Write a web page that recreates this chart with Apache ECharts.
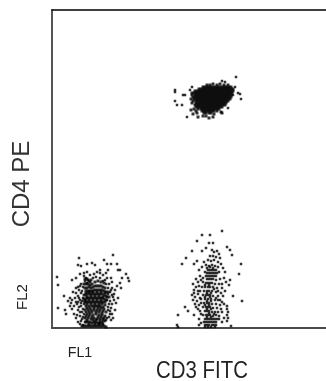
<!DOCTYPE html>
<html><head><meta charset="utf-8">
<style>html,body{margin:0;padding:0;background:#fff}#c{width:326px;height:381px}</style>
<script src="https://cdn.jsdelivr.net/npm/echarts@6/dist/echarts.min.js"></script></head>
<body><div id="c"></div>
<script>
const yTitle="CD4 PE", xTitle="CD3 FITC", yChannel="FL2", xChannel="FL1";
const cd4Blob=[
[207,243],[210,243],[213,244],[217,243],[220,244],[224,243],[228,243],
[203,241],[205,241],[207,241],[209,241],[211,241],[213,241],[215,241],[217,241],[219,241],[221,241],[223,241],[225,241],[227,241],[229,241],[231,241],
[199,239],[201,239],[203,239],[205,239],[207,239],[209,239],[211,239],[213,239],[215,239],[217,239],[219,239],[221,239],[223,239],[225,239],[227,239],[229,239],[231,239],[233,239],
[195,237],[197,237],[199,237],[201,237],[203,237],[205,237],[207,237],[209,237],[211,237],[213,237],[215,237],[217,237],[219,237],[221,237],[223,237],[225,237],[227,237],[229,237],[231,237],[233,237],
[192,235],[194,235],[196,235],[198,235],[200,235],[202,235],[204,235],[206,235],[208,235],[210,235],[212,235],[214,235],[216,235],[218,235],[220,235],[222,235],[224,235],[226,235],[228,235],[230,235],[232,235],
[192,233],[195,233],[197,233],[199,233],[201,233],[203,233],[205,233],[207,233],[209,233],[211,233],[213,233],[215,233],[217,233],[219,233],[221,233],[223,233],[225,233],[227,233],[229,233],[231,233],
[193,231],[195,231],[197,231],[199,231],[201,231],[203,231],[205,231],[207,231],[209,231],[211,231],[213,231],[215,231],[217,231],[219,231],[221,231],[223,231],[225,231],[227,231],[229,231],[231,231],
[191,229],[194,229],[196,229],[198,229],[200,229],[202,229],[204,229],[206,229],[208,229],[210,229],[212,229],[214,229],[216,229],[218,229],[220,229],[222,229],[224,229],[226,229],[228,229],[230,229],
[193,227],[196,227],[198,227],[200,227],[202,227],[204,227],[206,227],[208,227],[210,227],[212,227],[214,227],[216,227],[218,227],[220,227],[222,227],[224,227],[226,227],[228,227],
[192,225],[196,225],[198,225],[200,225],[202,225],[204,225],[206,225],[208,225],[210,225],[212,225],[214,225],[216,225],[218,225],[220,225],[222,225],[224,225],[226,225],
[195,223],[197,223],[199,223],[201,223],[203,223],[205,223],[207,223],[209,223],[211,223],[213,223],[215,223],[217,223],[219,223],[221,223],[223,223],[225,223],
[196,221],[198,221],[200,221],[202,221],[204,221],[206,221],[208,221],[210,221],[212,221],[214,221],[216,221],[218,221],[220,221],[222,221],
[194,219],[198,219],[201,219],[203,219],[205,219],[207,219],[209,219],[211,219],[213,219],[215,219],[217,219],[219,219],
[191,218],[196,217],[202,217],[204,217],[206,217],[208,217],[210,217],[212,217],[214,217],[217,217],[221,216],
[193,214],[197,215],[204,215],[206,215],[209,215],[211,215],[214,214],[222,215],
[198,211],[203,212],[206,212],[213,211],[209,210]
];
const cd4Outliers=[[175,238],[175,236],[183,233],[185,233],[175,227],[177,223],[182,223],[187,211],[236,251],[240,234],[241,229],[238,235],[225,246],[222,247],[228,220],[233,233],[235,241],[190,238],[192,241]];
const negLeft=[
[57,51],[58,43],[79,70],[78,63],[81,62],[87,64],[92,65],[95,63],[113,73],[104,68],[107,64],[111,64],[117,64],[108,58],[106,55],[118,58],[120,58],[126,54],[128,50],[129,47],[122,50],[120,45],[117,42],[121,40],
[58,20],[65,18],[66,14],[64,32],[70,30],[71,25],[70,22],[72,19],[72,48],[76,50],[80,54],[84,55],[100,58],[100,55],[107,50],[111,50],[112,46],[115,38],[118,30],[114,28],[115,18],[113,10],[111,8],[74,14],[76,10],[78,6],[73,36],[75,30],[76,26],[74,22],[78,18],[80,12],
[84,52],[86,50],[88,48],[85,47],[87,45],[90,46],[93,50],[96,51],[100,50],[103,47],[106,44],[108,40],[110,36],[112,33],[81,44],[83,41],[79,38],[81,35],[78,32],[80,28],[77,24],[81,22],[83,19],[80,16],[84,14],[82,9],[85,6],[83,3],[108,18],[110,14],[107,10],[111,20],[109,24],[107,28],[105,7],[103,4],[86,16],[84,24],[112,40],[114,34],[116,25],[76,40],[72,28],[68,27],
[78,41],[76,35],[79,30],[82,27],[78,26],[81,25],[83,30],[82,37],[80,42],[79,21],[82,16],[77,13],[83,11],[81,7],[80,4],[110,27],[112,24],[108,34],[111,38],[113,31],[109,44],[105,48],[108,21],[110,17],[109,11],[106,8],[112,14],[103,53],[94,54],[90,53],[87,56],[97,56]
];
const negLeftCore=[
[85,49],[87,49],[89,47],[91,48],[84,44],[86,44],[88,44],[90,43],[92,44],[95,46],[98,47],[101,46],[104,45],
[85,40],[87,40],[89,41],[91,40],[93,41],[95,42],[97,42],[99,42],[101,42],[103,41],[105,40],
[86,37],[88,37],[90,37],[92,37],[94,38],[96,38],[98,38],[100,38],[102,38],[104,37],[106,36],[108,36],
[84,33],[86,33],[88,34],[90,34],[92,34],[94,34],[96,34],[98,34],[100,34],[102,34],[104,33],[106,32],[109,31],
[84,29],[86,29],[88,30],[90,30],[92,30],[94,30],[96,30],[98,30],[100,30],[102,30],[104,29],[106,28],
[85,26],[87,26],[89,26],[91,26],[93,26],[95,26],[97,26],[99,26],[101,26],[103,26],
[86,22],[89,22],[92,22],[94,22],[96,22],[98,22],[100,22],[103,21],[105,23],
[85,18],[88,18],[91,18],[94,18],[97,18],[100,18],[103,17],[106,16],
[87,14],[90,14],[93,13],[96,14],[99,13],[102,13],[105,12],
[85,10],[88,10],[91,9],[94,10],[97,9],[100,9],[103,9],
[86,6],[88,6],[90,6],[92,5],[94,6],[96,6],[98,5],[100,5],[102,5],
[82,2],[84,2],[86,2],[88,2],[90,2],[92,2],[94,2],[96,2],[98,2],[100,2],[102,2],[104,2],[106,1],
[86,35],[89,36],[93,36],[97,36],[101,36],[105,35],[87,31],[91,32],[95,32],[99,32],[103,31],[107,31],[85,27],[89,28],[93,28],[97,28],[101,28],[105,26],[87,24],[91,24],[95,24],[99,24],[102,24],[87,20],[90,20],[94,20],[98,20],[101,20],[104,19],[89,16],[92,16],[96,16],[99,16],[102,15],[86,12],[89,12],[92,11],[98,11],[101,11],[104,10],[87,8],[93,8],[96,8],[100,7],[103,7],[89,4],[95,4],[99,4]
];
const negRight=[
[222,97],[202,93],[210,93],[197,87],[209,85],[213,85],[192,77],[202,77],[206,80],[186,70],[182,64],[194,64],[197,67],[227,81],[230,78],[232,73],[241,64],[239,54],[242,27],[233,32],[230,48],[185,21],[188,17],[178,13],[177,3],[178,1],[231,2],[194,13],
[212,78],[214,76],[217,77],[219,74],[210,72],[213,72],[216,71],[220,70],[208,68],[211,67],[214,68],[218,66],[221,64],[206,63],[209,62],[212,63],[215,62],[218,61],[223,60],[225,56],[200,52],[196,49],[198,46],[220,49],[226,46],[229,43],[193,44],[196,41],[219,44],[222,40],[225,37],[194,38],[198,37],[192,33],[195,31],[221,35],[223,32],[193,28],[197,27],[222,26],[195,24],[199,23],[220,23],[224,24],[227,22],[198,19],[221,19],[227,19],[228,16],[227,13],[228,10],[199,9],[219,9],[227,7],[201,14],
[202,61],[204,66],[199,58],[201,48],[199,42],[194,35],[200,30],[198,34],[196,21],[200,17],[201,25],[222,44],[224,50],[218,37],[220,28],[216,30],[219,12],[222,16],[224,10],[222,6],[201,5],[199,3]
];
const negRightCore=[
[208,58],[210,58],[212,58],[214,58],[216,58],[205,56],[207,55],[209,55],[211,55],[213,55],[215,55],[217,55],[219,56],[206,52],[208,52],[210,52],[212,52],[214,52],[216,52],[207,60],[210,61],[213,60],
[203,50],[207,49],[209,49],[211,49],[213,49],[216,48],[203,46],[206,45],[208,45],[210,45],[212,45],[215,44],
[202,41],[205,41],[208,41],[210,41],[213,41],[217,40],[200,37],[204,37],[207,37],[209,37],[212,37],[216,36],
[203,33],[206,33],[208,33],[210,33],[213,32],[218,32],[201,29],[205,29],[208,29],[211,29],[215,28],[218,28],
[204,25],[207,25],[209,25],[212,24],[216,24],[203,21],[206,21],[208,21],[210,21],[213,20],[217,20],
[205,17],[207,17],[209,17],[212,16],[215,16],[218,16],[203,13],[206,13],[208,13],[210,13],[213,12],[216,13],
[205,9],[207,9],[209,9],[211,9],[213,9],[215,9],[217,9],[204,6],[206,6],[208,6],[210,6],[212,6],[214,6],[216,6],
[205,3],[207,3],[209,3],[212,3],[214,3],[216,3],[205,1],[208,1],[211,1],[215,1],
[205,43],[209,43],[214,39],[207,35],[211,35],[205,31],[210,31],[207,27],[211,27],[205,23],[209,23],[207,19],[211,19],[209,15],[214,14],[207,11],[211,11]
];
const chart=echarts.init(document.getElementById('c'),null,{renderer:'canvas'});
const labelFont='"Liberation Sans",Arial,sans-serif';
const noMarks={axisTick:{show:false},axisLabel:{show:false},splitLine:{show:false}};
const dots=(d,s)=>({type:'scatter',xAxisIndex:0,data:d,symbol:'rect',symbolSize:s,itemStyle:{color:'#000'},silent:true});
chart.setOption({
 animation:false,backgroundColor:'#fff',
 grid:{left:52,top:10,right:0,bottom:53},
 xAxis:[
  {type:'value',min:52,max:326,position:'bottom',axisLine:{show:true,onZero:false,lineStyle:{color:'#4a4a4a',width:2}},...noMarks},
  {type:'value',min:52,max:326,position:'top',axisLine:{show:true,onZero:false,lineStyle:{color:'#000',width:1.5}},...noMarks}
 ],
 yAxis:{type:'value',min:0,max:318,axisLine:{show:true,onZero:false,lineStyle:{color:'#555',width:2}},...noMarks},
 series:[dots(cd4Blob,3),dots(cd4Outliers,2.5),dots(negLeft,2.5),dots(negLeftCore,3),dots(negRight,2.5),dots(negRightCore,2.5)],
 graphic:[
  {type:'text',x:22,y:184,rotation:Math.PI/2,style:{text:yTitle,font:'24px '+labelFont,fill:'#333',align:'center',verticalAlign:'middle'}},
  {type:'text',x:23,y:297,rotation:Math.PI/2,style:{text:yChannel,font:'15px '+labelFont,fill:'#222',align:'center',verticalAlign:'middle'}},
  {type:'text',x:80,y:353,scaleX:0.95,style:{text:xChannel,font:'15px '+labelFont,fill:'#222',align:'center',verticalAlign:'middle'}},
  {type:'text',x:202,y:371,scaleX:0.85,style:{text:xTitle,font:'24px '+labelFont,fill:'#222',align:'center',verticalAlign:'middle'}}
 ]
});
</script></body></html>
